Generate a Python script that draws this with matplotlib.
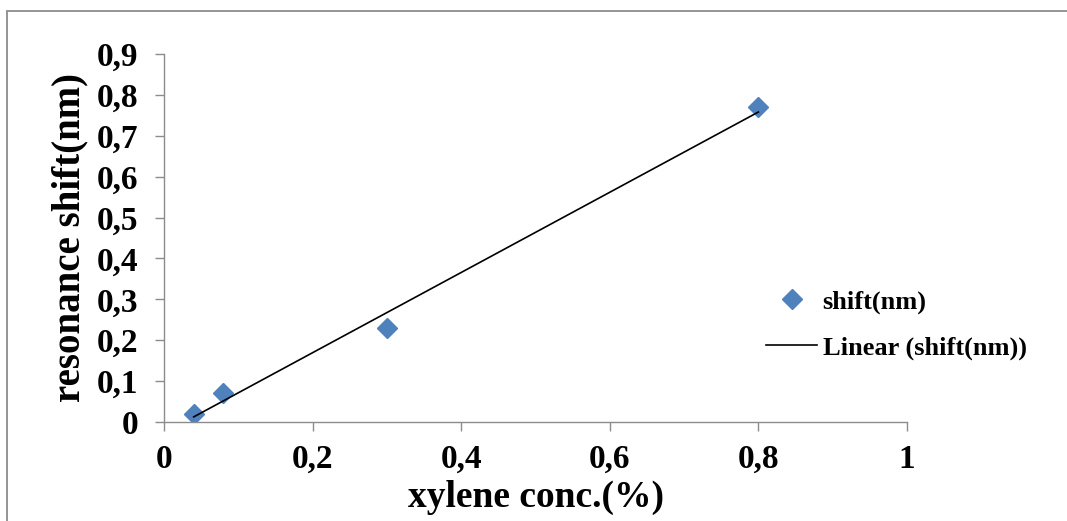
import matplotlib.pyplot as plt
import numpy as np
from matplotlib.patches import Rectangle
from matplotlib.ticker import FuncFormatter

# data
conc = [0.04, 0.08, 0.3, 0.8]
shift = [0.02, 0.07, 0.23, 0.77]
x_ticks = [0, 0.2, 0.4, 0.6, 0.8, 1]
y_ticks = [0, 0.1, 0.2, 0.3, 0.4, 0.5, 0.6, 0.7, 0.8, 0.9]

plt.rcParams['font.family'] = ['Liberation Serif', 'DejaVu Serif']
plt.rcParams['font.weight'] = 'bold'

W, H = 1067, 521
fig = plt.figure(figsize=(W / 100, H / 100), dpi=100)
ax = fig.add_axes([164 / W, 1 - 422 / H, (907 - 164) / W, (422 - 54) / H])

# outer frame of the Excel chart area (cut at right / bottom)
fig.patches.append(Rectangle((7 / W, -0.1), 1.2, 1 - 11 / H + 0.1,
                             transform=fig.transFigure, fill=False,
                             edgecolor='#8c8c8c', linewidth=1.3))

ax.plot(conc, shift, linestyle='none', marker='D', markersize=10,
        color='#4f81bd', label='shift(nm)')

# linear trendline over the data range
k, b = np.polyfit(conc, shift, 1)
xs = np.array([min(conc), max(conc)])
ax.plot(xs, k * xs + b, color='black', linewidth=1.2, label='Linear (shift(nm))')

ax.set_xlim(0, 1)
ax.set_ylim(0, 0.9)
ax.set_xticks(x_ticks)
ax.set_yticks(y_ticks)
fmt = FuncFormatter(lambda v, p: ('%g' % round(v, 2)).replace('.', ','))
ax.xaxis.set_major_formatter(fmt)
ax.yaxis.set_major_formatter(fmt)

for s in ['top', 'right']:
    ax.spines[s].set_visible(False)
for s in ['left', 'bottom']:
    ax.spines[s].set_color('#8c8c8c')
    ax.spines[s].set_linewidth(1.0)
ax.tick_params(axis='both', direction='out', length=6.5, width=1.0,
               color='#8c8c8c', labelsize=24)
ax.tick_params(axis='y', pad=12)
ax.tick_params(axis='x', pad=9)

ax.set_xlabel('xylene conc.(%)', fontsize=27, fontweight='bold', labelpad=4)
ax.set_ylabel('resonance shift(nm)', fontsize=28, fontweight='bold', labelpad=6)

ax.legend(loc='center left', bbox_to_anchor=(766 / W, 1 - 325 / H),
          bbox_transform=fig.transFigure, frameon=False,
          handlelength=1.95, handletextpad=0.2, labelspacing=0.85,
          borderpad=0, borderaxespad=0, prop={'weight': 'bold', 'size': 19})

fig.savefig('out.png', dpi=100)
